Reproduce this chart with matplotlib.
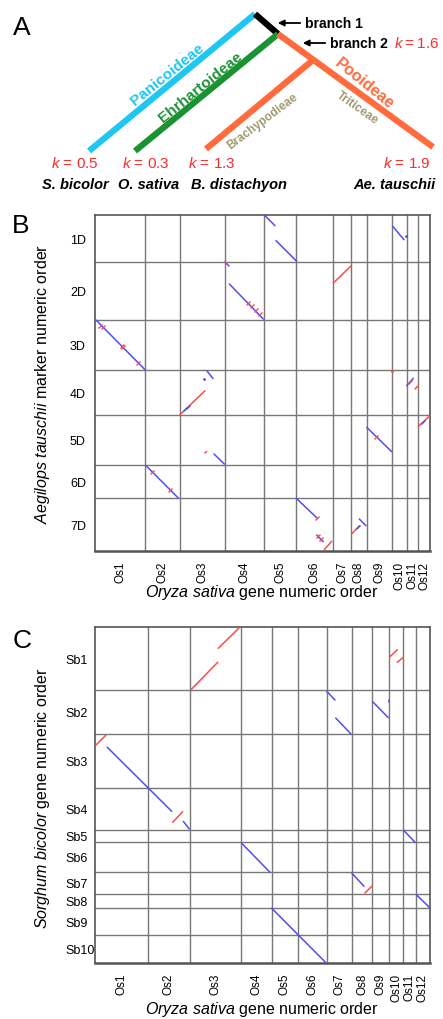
import numpy as np
import matplotlib
matplotlib.use("Agg")
import matplotlib.pyplot as plt
from matplotlib.markers import MarkerStyle
from matplotlib.transforms import Affine2D

plt.rcParams['font.family'] = ['Liberation Sans', 'DejaVu Sans']
plt.rcParams['mathtext.fontset'] = 'custom'
plt.rcParams['mathtext.rm'] = 'Liberation Sans'
plt.rcParams['mathtext.it'] = 'Liberation Sans:italic'
plt.rcParams['mathtext.bf'] = 'Liberation Sans:bold'

# ---- panel A: tree ----
species = ["S. bicolor", "O. sativa", "B. distachyon", "Ae. tauschii"]
k_values = [0.5, 0.3, 1.3, 1.9]
k_branch2 = 1.6

# ---- panel B: rice (x) vs Ae. tauschii (y) ----
b_os_labels = ["Os%d" % i for i in range(1, 13)]
b_os_sizes = [5000, 3500, 4500, 3900, 3200, 3700, 1800, 1600, 2500, 1500, 1100, 1200]
b_d_labels = ["1D", "2D", "3D", "4D", "5D", "6D", "7D"]
b_d_sizes = [4700, 5800, 5000, 4500, 5000, 3300, 5300]
b_blue = [(100, 10500, 5000, 15470), (5100, 25070, 8330, 28300),
          (11200, 15600, 11800, 16350), (11900, 23900, 12930, 24900),
          (13430, 6900, 16830, 10400), (13100, 4800, 13400, 5100),
          (17000, 70, 18000, 1070), (18100, 2570, 20170, 4630),
          (20150, 28350, 22230, 30330), (22170, 32000, 22830, 32670),
          (26430, 30400, 27100, 31070), (27170, 21230, 29670, 23670),
          (29770, 1130, 30900, 2470), (31170, 17070, 31830, 16330)]
b_red = [(8500, 19970, 11000, 17570), (11000, 23800, 11170, 23650),
         (13000, 4650, 13150, 4800), (22930, 33470, 23670, 32630),
         (23830, 6800, 25570, 5130), (25670, 31900, 26430, 31070),
         (32000, 17400, 32330, 17070), (32330, 21130, 33500, 20070)]
b_red_ticks = [(500, 11070), (830, 11230), (2670, 13070), (2830, 13170), (4330, 14800),
               (15300, 8800), (15700, 9100), (16100, 9500), (16500, 9900),
               (5670, 25730), (7500, 27470), (28100, 22200),
               (22300, 32100), (22600, 32400), (22230, 30330), (31500, 16700)]
b_blue_ticks = [(9000, 19400), (9300, 19150), (26270, 31230), (32770, 20670)]
b_red_dots = [(29670, 15630)]
b_blue_dots = [(31050, 2050), (10900, 16400)]

# ---- panel C: rice (x) vs sorghum (y) ----
c_os_labels = ["Os%d" % i for i in range(1, 13)]
c_os_sizes = [5300, 4200, 5100, 3100, 2600, 2900, 2500, 2000, 1700, 1400, 1300, 1400]
c_sb_labels = ["Sb%d" % i for i in range(1, 11)]
c_sb_sizes = [6300, 4400, 5400, 4200, 1200, 3000, 2200, 1400, 2700, 2800]
c_blue = [(1230, 12030, 7670, 18430), (8830, 19430, 9430, 20200),
          (14670, 21630, 17500, 24530), (17670, 28130, 23070, 33550),
          (23170, 6430, 24000, 7300), (24070, 9100, 25600, 10700),
          (25670, 24600, 26900, 25930), (27770, 7470, 29330, 9070),
          (29400, 7300, 29400, 7450), (30900, 20370, 32000, 21530),
          (32170, 26800, 33430, 28030)]
c_red = [(100, 11800, 1100, 10800), (7770, 19530, 8770, 18470),
         (9600, 6270, 12270, 3530), (12330, 2130, 14500, 0),
         (27000, 26600, 27670, 25930), (29500, 2970, 30230, 2270),
         (30230, 3530, 30830, 3030)]

BLUE = '#4f4ff0'
RED = '#ff4a4a'
GRID = '#777777'

W, H = 443, 1020
fig = plt.figure(figsize=(W / 100, H / 100), dpi=100)


def px_ax(x0, y0, x1, y1):
    return [x0 / W, 1 - y1 / H, (x1 - x0) / W, (y1 - y0) / H]


# ================= Panel A =================
axA = fig.add_axes([0, 1 - 200 / H, 1, 200 / H])
axA.set_xlim(0, W)
axA.set_ylim(200, 0)
axA.axis('off')

root = (255, 15)
n1 = (278, 35)
n2 = (313, 61)
tips = {"S. bicolor": (89, 152), "O. sativa": (135, 152),
        "B. distachyon": (206, 150), "Ae. tauschii": (433, 148)}
lw_tree = 4.5
axA.plot([root[0], tips["S. bicolor"][0]], [root[1], tips["S. bicolor"][1]],
         color='#1ec6f2', lw=lw_tree, solid_capstyle='butt')
axA.plot([root[0], n1[0]], [root[1], n1[1]], color='black', lw=lw_tree,
         solid_capstyle='butt')
axA.plot([n1[0], tips["O. sativa"][0]], [n1[1], tips["O. sativa"][1]],
         color='#1b9232', lw=lw_tree, solid_capstyle='butt')
axA.plot([n1[0], tips["Ae. tauschii"][0]], [n1[1], tips["Ae. tauschii"][1]],
         color='#ff6b3d', lw=lw_tree, solid_capstyle='butt')
axA.plot([n2[0], tips["B. distachyon"][0]], [n2[1], tips["B. distachyon"][1]],
         color='#ff6b3d', lw=lw_tree, solid_capstyle='butt')

axA.text(167, 75, "Panicoideae", color='#1ec6f2', fontsize=11, fontweight='bold',
         rotation=39, ha='center', va='center', rotation_mode='anchor')
axA.text(201, 87, "Ehrhartoideae", color='#1b9232', fontsize=11, fontweight='bold',
         rotation=39, ha='center', va='center', rotation_mode='anchor')
axA.text(364, 84, "Pooideae", color='#ff6b3d', fontsize=11.5, fontweight='bold',
         rotation=-39, ha='center', va='center', rotation_mode='anchor')
axA.text(263, 122, "Brachypodieae", color='#a09a72', fontsize=8.5, fontweight='bold',
         rotation=37, ha='center', va='center', rotation_mode='anchor')
axA.text(357, 108, "Triticeae", color='#a09a72', fontsize=8.5, fontweight='bold',
         rotation=-35, ha='center', va='center', rotation_mode='anchor')

axA.annotate("", xy=(275, 24), xytext=(303, 24),
             arrowprops=dict(arrowstyle='-|>', color='black', lw=1.3, mutation_scale=9))
axA.text(305, 24, "branch 1", fontsize=10, fontweight='bold', va='center', ha='left')
axA.annotate("", xy=(300, 44), xytext=(328, 44),
             arrowprops=dict(arrowstyle='-|>', color='black', lw=1.3, mutation_scale=9))
axA.text(330, 44, "branch 2", fontsize=10, fontweight='bold', va='center', ha='left')
axA.text(394, 44, r"$\it{k}$" + "\u2009=\u2009%.1f" % k_branch2, fontsize=11,
         color='#ff2a2a', va='center', ha='left')

for name, k in zip(species, k_values):
    cx = {"S. bicolor": 75, "O. sativa": 146, "B. distachyon": 212,
          "Ae. tauschii": 407}[name]
    axA.text(cx, 164, r"$\it{k}$ = %.1f" % k, fontsize=11, color='#ff2a2a',
             ha='center', va='center')
    sx = {"S. bicolor": 75, "O. sativa": 149, "B. distachyon": 239,
          "Ae. tauschii": 394}[name]
    axA.text(sx, 185, name, fontsize=10.5, fontweight='bold', style='italic',
             ha='center', va='center')

fig.text(22 / W, 1 - 28 / H, "A", fontsize=19, ha='center', va='center')
fig.text(21 / W, 1 - 226 / H, "B", fontsize=19, ha='center', va='center')
fig.text(22 / W, 1 - 641 / H, "C", fontsize=19, ha='center', va='center')


def dot_panel(ax, xsizes, xlabels, ysizes, ylabels, blue, red, ypad):
    xb = np.concatenate([[0], np.cumsum(xsizes)])
    yb = np.concatenate([[0], np.cumsum(ysizes)])
    ax.set_xlim(0, xb[-1])
    ax.set_ylim(yb[-1], 0)
    for v in xb[1:-1]:
        ax.axvline(v, color=GRID, lw=1.0, zorder=1)
    for v in yb[1:-1]:
        ax.axhline(v, color=GRID, lw=1.0, zorder=1)
    for x0, y0, x1, y1 in blue:
        ax.plot([x0, x1], [y0, y1], color=BLUE, lw=1.1, zorder=3,
                solid_capstyle='round')
    for x0, y0, x1, y1 in red:
        ax.plot([x0, x1], [y0, y1], color=RED, lw=1.1, zorder=3,
                solid_capstyle='round')
    ax.set_xticks((xb[:-1] + xb[1:]) / 2)
    ax.set_xticklabels(xlabels, rotation=90, fontsize=8.5)
    ax.set_yticks((yb[:-1] + yb[1:]) / 2)
    ax.set_yticklabels(ylabels, fontsize=9)
    for lbl in ax.get_yticklabels():
        lbl.set_ha('left')
    ax.tick_params(axis='x', length=0, pad=7)
    ax.tick_params(axis='y', length=0, pad=ypad)
    for s in ax.spines.values():
        s.set_color('#555555')
        s.set_linewidth(1.2)
    ax.spines['bottom'].set_linewidth(1.8)


tick_marker = MarkerStyle('|', transform=Affine2D().rotate_deg(-45))

axB = fig.add_axes(px_ax(95, 216, 430, 552))
dot_panel(axB, b_os_sizes, b_os_labels, b_d_sizes, b_d_labels, b_blue, b_red, 18)
axB.plot([p[0] for p in b_red_ticks], [p[1] for p in b_red_ticks], ls='none',
         marker=tick_marker, ms=5, mew=1.0, color=RED, zorder=4)
axB.plot([p[0] for p in b_blue_ticks], [p[1] for p in b_blue_ticks], ls='none',
         marker=tick_marker, ms=3.5, mew=1.0, color=BLUE, zorder=4)
axB.plot([p[0] for p in b_red_dots], [p[1] for p in b_red_dots], ls='none',
         marker='o', ms=1.0, color=RED, zorder=4)
axB.plot([p[0] for p in b_blue_dots], [p[1] for p in b_blue_dots], ls='none',
         marker='o', ms=1.0, color=BLUE, zorder=4)

axC = fig.add_axes(px_ax(95, 628, 430, 964))
dot_panel(axC, c_os_sizes, c_os_labels, c_sb_sizes, c_sb_labels, c_blue, c_red, 21.6)

fig.text(262 / W, 1 - 593 / H, r"$\it{Oryza\ sativa}$ gene numeric order",
         fontsize=11.5, ha='center', va='center')
fig.text(262 / W, 1 - 1010 / H, r"$\it{Oryza\ sativa}$ gene numeric order",
         fontsize=11.5, ha='center', va='center')
fig.text(43 / W, 1 - 384 / H, r"$\it{Aegilops\ tauschii}$ marker numeric order",
         fontsize=11.5, ha='center', va='center', rotation=90)
fig.text(43 / W, 1 - 798 / H, r"$\it{Sorghum\ bicolor}$ gene numeric order",
         fontsize=11.5, ha='center', va='center', rotation=90)

fig.savefig("out.png", dpi=100)
